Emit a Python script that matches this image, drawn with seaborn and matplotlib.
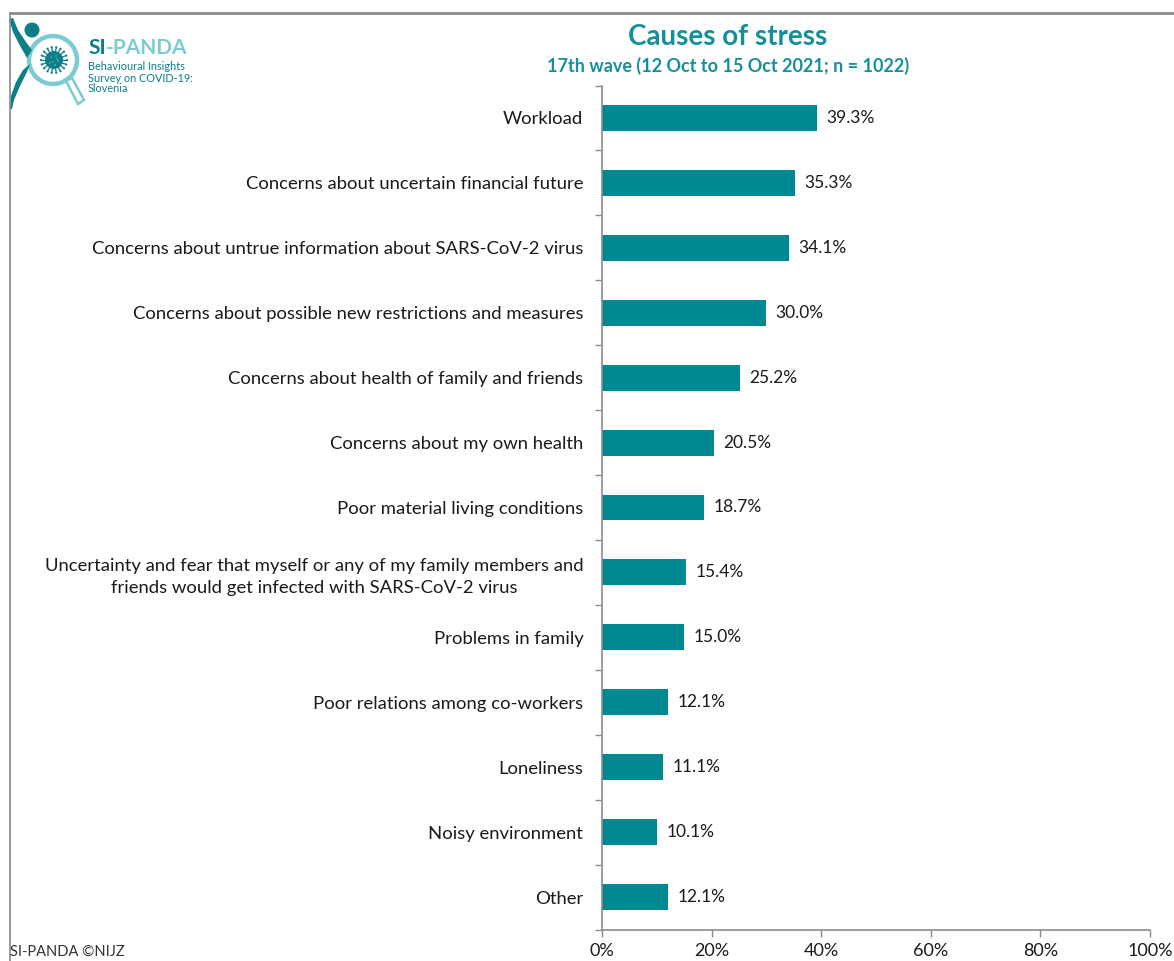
import matplotlib
matplotlib.use("Agg")
import matplotlib.pyplot as plt
from matplotlib.patches import Circle, Polygon
from matplotlib.lines import Line2D
import seaborn as sns
import pandas as pd
import numpy as np

categories = [
    "Workload",
    "Concerns about uncertain financial future",
    "Concerns about untrue information about SARS-CoV-2 virus",
    "Concerns about possible new restrictions and measures",
    "Concerns about health of family and friends",
    "Concerns about my own health",
    "Poor material living conditions",
    "Uncertainty and fear that myself or any of my family members and\nfriends would get infected with SARS-CoV-2 virus",
    "Problems in family",
    "Poor relations among co-workers",
    "Loneliness",
    "Noisy environment",
    "Other",
]
values = [39.3, 35.3, 34.1, 30.0, 25.2, 20.5, 18.7, 15.4, 15.0, 12.1, 11.1, 10.1, 12.1]
x_ticks = [0, 20, 40, 60, 80, 100]
x_tick_labels = ["0%", "20%", "40%", "60%", "80%", "100%"]

title = "Causes of stress"
subtitle = "17th wave (12 Oct to 15 Oct 2021; n = 1022)"
footer = "SI-PANDA \u00a9NIJZ"

TEAL = "#008893"
TITLE_TEAL = "#14909a"
LIGHT_TEAL = "#7ccbd0"
DARK_TEAL = "#0c7f88"
AXIS_GREY = "#8c8c8c"
TEXT = "#1a1a1a"

sns.set_theme(style="white")
plt.rcParams["font.family"] = ["Lato", "DejaVu Sans"]

df = pd.DataFrame({"cause": categories, "share": values})

fig = plt.figure(figsize=(11.74, 9.61), dpi=100)
ax = fig.add_axes([602 / 1174, 1 - 929.5 / 961, 548 / 1174, 844 / 961])

sns.barplot(data=df, y="cause", x="share", orient="h", color=TEAL,
            width=0.4, saturation=1, ax=ax, edgecolor="none")

ax.set_xlim(0, 100)
ax.set_ylim(len(categories) - 0.5, -0.5)
ax.set_xlabel("")
ax.set_ylabel("")
ax.set_xticks(x_ticks)
ax.set_xticklabels(x_tick_labels, fontsize=13, color=TEXT)

# category labels sit between boundary tick marks
ax.set_yticks(range(len(categories)))
ax.set_yticklabels(categories, fontsize=13.3, color=TEXT, multialignment="center",
                   linespacing=1.45)
ax.set_yticks(np.arange(-0.5, len(categories), 1.0), minor=True)
ax.tick_params(axis="y", which="major", left=True, length=0, pad=13.5)
ax.tick_params(axis="y", which="minor", left=True, length=5, width=1,
               color=AXIS_GREY, direction="out")
ax.tick_params(axis="x", which="major", bottom=True, length=5, width=1,
               color=AXIS_GREY, direction="out", pad=5)

for s in ["top", "right"]:
    ax.spines[s].set_visible(False)
for s in ["left", "bottom"]:
    ax.spines[s].set_color(AXIS_GREY)
    ax.spines[s].set_linewidth(1.2)

for i, v in enumerate(values):
    ax.text(v + 1.7, i, f"{v:.1f}%", va="center", ha="left", fontsize=12.5, color=TEXT)

# titles
fig.text(728 / 1174, 1 - 37 / 961, title, ha="center", va="center",
         fontsize=20, fontweight="bold", color=TITLE_TEAL)
fig.text(728 / 1174, 1 - 66 / 961, subtitle, ha="center", va="center",
         fontsize=13, fontweight="bold", color=TITLE_TEAL)
fig.text(10 / 1174, 1 - 952 / 961, footer, ha="left", va="center",
         fontsize=10.5, color="#333333")

# chart-area frame (top and left edges)
fig.add_artist(Line2D([10 / 1174, 1.0], [1 - 12.5 / 961] * 2, transform=fig.transFigure,
                      color="#8a8a8a", lw=2))
fig.add_artist(Line2D([10 / 1174] * 2, [1 - 12.5 / 961, 0.0], transform=fig.transFigure,
                      color="#8a8a8a", lw=1.2))

# logo drawn in pixel space
lx = fig.add_axes([0, 1 - 120 / 961, 220 / 1174, 120 / 961])
lx.set_xlim(0, 220)
lx.set_ylim(120, 0)
lx.axis("off")
# magnifier handle
lx.add_patch(Polygon([[66, 81], [72, 78], [84, 100], [78, 104]], closed=True,
                     fill=False, ec=LIGHT_TEAL, lw=1.8))
# lens ring
lx.add_patch(Circle((53, 60), 24, fill=False, ec=LIGHT_TEAL, lw=3.2))
# figure: head, raised arm, body
lx.add_patch(Circle((32, 30), 7.5, fc=DARK_TEAL, ec="none"))
lx.add_patch(Polygon([[9, 19], [13, 18], [18, 30], [26, 42], [32, 50], [27, 58],
                      [19, 44], [13, 32]], closed=True, fc=DARK_TEAL, ec="none"))
lx.add_patch(Polygon([[30, 64], [27, 72], [20, 86], [14, 100], [12, 109], [10, 109],
                      [11, 96], [16, 82], [23, 70]], closed=True, fc=DARK_TEAL, ec="none"))
# virus in the lens
ang = np.linspace(0, 2 * np.pi, 18, endpoint=False)
for a in ang:
    lx.plot([54 + 8 * np.cos(a), 54 + 12.5 * np.cos(a)], [60 + 8 * np.sin(a), 60 + 12.5 * np.sin(a)],
            color=DARK_TEAL, lw=0.9)
    lx.add_patch(Circle((54 + 13 * np.cos(a), 60 + 13 * np.sin(a)), 1.1, fc=DARK_TEAL, ec="none"))
lx.add_patch(Circle((54, 60), 9, fc=DARK_TEAL, ec="none"))
for (dx, dy) in [(-3, -3), (2, -4), (4, 1), (-1, 2), (-4, 3), (1, 5), (3, -1)]:
    lx.add_patch(Circle((54 + dx, 60 + dy), 0.7, fc=LIGHT_TEAL, ec="none"))
lx.text(88, 48, "SI", fontsize=15, fontweight="bold", color=DARK_TEAL, va="center", ha="left")
lx.text(106, 48, "-PANDA", fontsize=15, fontweight="bold", color=LIGHT_TEAL, va="center", ha="left")
for k, line in enumerate(["Behavioural Insights", "Survey on COVID-19:", "Slovenia"]):
    lx.text(88, 67 + k * 11, line, fontsize=7.8, color=DARK_TEAL, va="center", ha="left")

fig.savefig("out.png", dpi=100)
